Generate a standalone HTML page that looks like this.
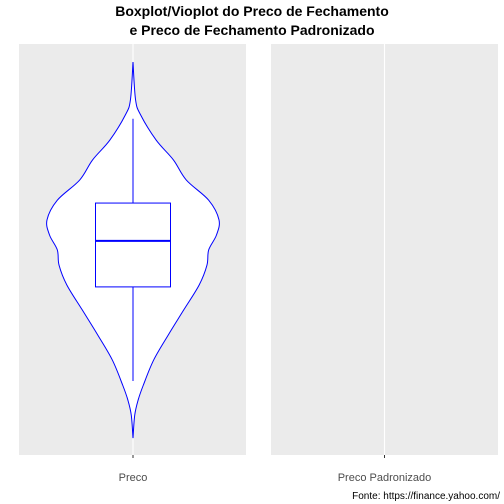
<!DOCTYPE html>
<html><head><meta charset="utf-8"><style>
html,body{margin:0;padding:0;background:#fff;}
svg{display:block;font-family:"Liberation Sans",sans-serif;}
</style></head><body>
<svg id="chart" width="504" height="504" viewBox="0 0 504 504">
  <text x="252" y="16" text-anchor="middle" font-size="14" font-weight="bold" fill="#000">Boxplot/Vioplot do Preco de Fechamento</text>
  <text x="252" y="35" text-anchor="middle" font-size="14" font-weight="bold" fill="#000">e Preco de Fechamento Padronizado</text>
  <rect x="19" y="44" width="227" height="411" fill="#ebebeb"/>
  <line x1="133" y1="44" x2="133" y2="455" stroke="#fff" stroke-width="1.1"/>
  <rect x="271" y="44" width="227" height="411" fill="#ebebeb"/>
  <line x1="384.5" y1="44" x2="384.5" y2="455" stroke="#fff" stroke-width="1.1"/>
  <line x1="133" y1="455" x2="133" y2="458" stroke="#333" stroke-width="1"/>
  <line x1="384.5" y1="455" x2="384.5" y2="458" stroke="#333" stroke-width="1"/>
  <text x="133" y="481" text-anchor="middle" font-size="11" fill="#4d4d4d">Preco</text>
  <text x="384.5" y="481" text-anchor="middle" font-size="11" fill="#4d4d4d">Preco Padronizado</text>
  <text x="500" y="499" text-anchor="end" font-size="10" fill="#000">Fonte: https://finance.yahoo.com/</text>
  <g id="marks"></g>
</svg>
<script>
// violin density profile (value, relative density)
const violinValues = [95.6, 86.4, 82.7, 76.6, 71.8, 66.9, 62.0, 57.2, 53.5, 49.9, 46.2, 41.4, 35.3, 29.2, 23.1, 17.0, 13.4, 9.7, 4.1];
const violinDensity = [0, 0.03, 0.09, 0.27, 0.47, 0.62, 0.88, 1.0, 0.97, 0.88, 0.86, 0.77, 0.59, 0.41, 0.24, 0.12, 0.06, 0.02, 0];
// box stats: lower whisker, q1, median, q3, upper whisker
const boxStats = [18.0, 40.9, 52.1, 61.3, 81.8];
const categories = ["Preco"];

const yScale = v => 455 - v * 4.11;
const xCenter = 133, maxHalf = 86, boxHalf = 37.5;
const g = document.getElementById('marks');
const NS = 'http://www.w3.org/2000/svg';

// smooth path via Catmull-Rom
function smooth(pts){
  let d = 'M' + pts[0][0] + ',' + pts[0][1];
  for (let i = 0; i < pts.length - 1; i++) {
    const p0 = pts[Math.max(i-1,0)], p1 = pts[i], p2 = pts[i+1], p3 = pts[Math.min(i+2,pts.length-1)];
    const c1 = [p1[0] + (p2[0]-p0[0])/6, p1[1] + (p2[1]-p0[1])/6];
    const c2 = [p2[0] - (p3[0]-p1[0])/6, p2[1] - (p3[1]-p1[1])/6];
    d += ' C' + c1 + ' ' + c2 + ' ' + p2;
  }
  return d;
}
const right = violinValues.map((v,i) => [xCenter + violinDensity[i]*maxHalf, yScale(v)]);
const left = violinValues.map((v,i) => [xCenter - violinDensity[i]*maxHalf, yScale(v)]).reverse();
const violin = document.createElementNS(NS, 'path');
violin.setAttribute('d', smooth(right) + ' ' + smooth(left).replace(/^M[^ ]+/, '') + ' Z');
violin.setAttribute('fill', '#fff');
violin.setAttribute('stroke', '#0000ff');
violin.setAttribute('stroke-width', '1');


g.appendChild(violin);

function line(x1,y1,x2,y2,w,name){
  const l = document.createElementNS(NS, 'line');
  l.setAttribute('x1', x1); l.setAttribute('y1', y1); l.setAttribute('x2', x2); l.setAttribute('y2', y2);
  l.setAttribute('stroke', '#0000ff'); l.setAttribute('stroke-width', w);
  
  
  g.appendChild(l);
}
line(xCenter, yScale(boxStats[4]), xCenter, yScale(boxStats[3]), 1, 'upper-whisker');
line(xCenter, yScale(boxStats[1]), xCenter, yScale(boxStats[0]), 1, 'lower-whisker');
const box = document.createElementNS(NS, 'rect');
box.setAttribute('x', xCenter - boxHalf);
box.setAttribute('y', yScale(boxStats[3]));
box.setAttribute('width', boxHalf*2);
box.setAttribute('height', yScale(boxStats[1]) - yScale(boxStats[3]));
box.setAttribute('fill', '#fff');
box.setAttribute('stroke', '#0000ff');
box.setAttribute('stroke-width', '1');


g.appendChild(box);
line(xCenter - boxHalf, yScale(boxStats[2]), xCenter + boxHalf, yScale(boxStats[2]), 2, 'median-line');
</script>
</body></html>
